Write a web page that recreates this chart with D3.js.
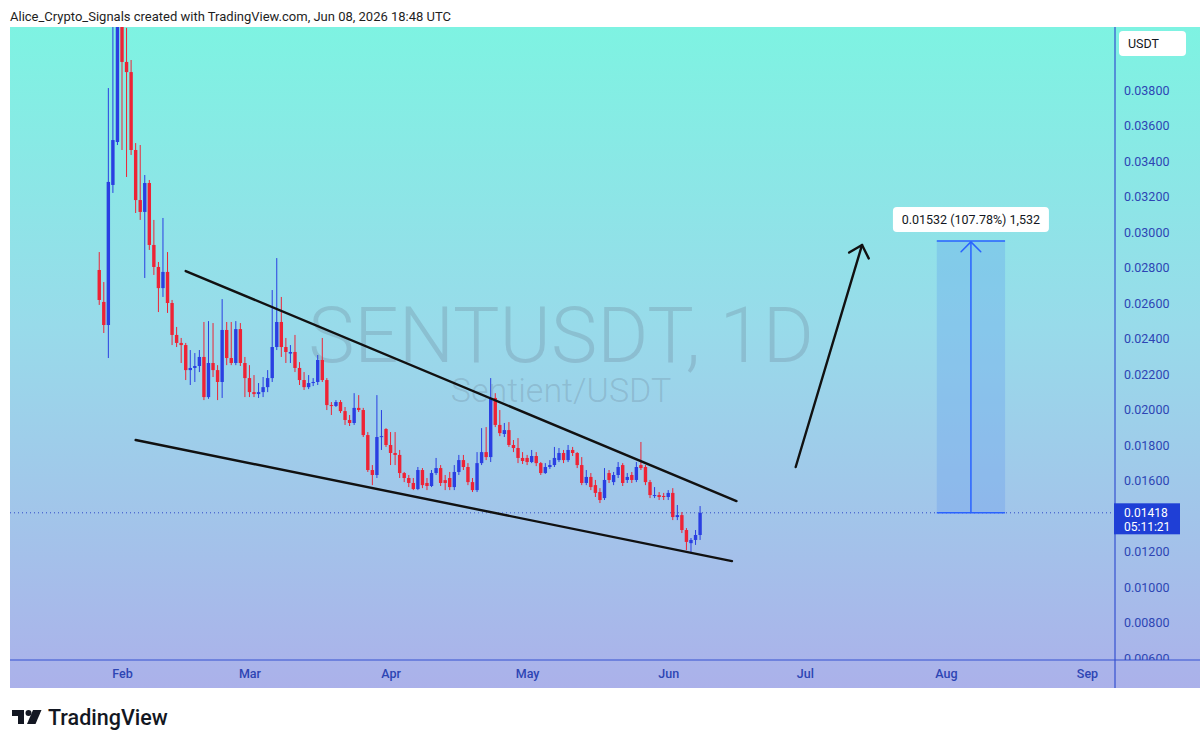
<!DOCTYPE html>
<html>
<head>
<meta charset="utf-8">
<script src="https://cdn.jsdelivr.net/npm/d3@7/dist/d3.min.js"></script>
<style>
  body { margin: 0; background: #fff; }
  svg { display: block; font-family: Roboto, "Noto Sans", sans-serif; }
</style>
</head>
<body>
<div class="canvas"></div>
<script>
// daily candles SENTUSDT, first one on Jan 27 2026
const firstDay = "2026-01-27"

const open = [0.02786,0.02606,0.02476,0.03265,0.03507,0.04290,0.03958,0.03901,0.03462,0.03180,
0.03113,0.03276,0.02927,0.02803,0.02684,0.02775,0.02600,0.02420,0.02375,0.02363,
0.02222,0.02234,0.02245,0.02296,0.02070,0.02262,0.02222,0.02155,0.02448,0.02290,
0.02262,0.02453,0.02262,0.02177,0.02098,0.02087,0.02098,0.02126,0.02177,0.02352,
0.02493,0.02352,0.02315,0.02324,0.02234,0.02166,0.02126,0.02149,0.02155,0.02279,
0.02166,0.02025,0.02020,0.02042,0.01991,0.01941,0.01924,0.02009,0.01997,0.01856,
0.01659,0.01631,0.01845,0.01890,0.01800,0.01755,0.01744,0.01642,0.01614,0.01586,
0.01552,0.01659,0.01586,0.01569,0.01642,0.01670,0.01602,0.01614,0.01563,0.01648,
0.01715,0.01676,0.01591,0.01546,0.01698,0.01760,0.01732,0.02065,0.01913,0.01862,
0.01884,0.01800,0.01783,0.01727,0.01727,0.01704,0.01738,0.01698,0.01642,0.01676,
0.01687,0.01715,0.01755,0.01715,0.01772,0.01755,0.01687,0.01586,0.01620,0.01574,
0.01535,0.01501,0.01642,0.01591,0.01631,0.01687,0.01603,0.01631,0.01603,0.01687,
0.01676,0.01591,0.01513,0.01518,0.01513,0.01507,0.01530,0.01394,0.01405,0.01321,
0.01247,0.01265,0.01293]

const high = [0.02887,0.02718,0.03811,0.04250,0.04450,0.04380,0.04150,0.03969,0.03501,0.03490,
0.03321,0.03293,0.03068,0.02831,0.03079,0.02887,0.02617,0.02465,0.02403,0.02375,
0.02335,0.02318,0.02335,0.02493,0.02498,0.02487,0.02250,0.02622,0.02493,0.02493,
0.02498,0.02487,0.02296,0.02250,0.02194,0.02149,0.02183,0.02222,0.02673,0.02853,
0.02634,0.02403,0.02363,0.02420,0.02267,0.02211,0.02194,0.02177,0.02307,0.02403,
0.02177,0.02042,0.02053,0.02053,0.02014,0.01969,0.02092,0.02081,0.02009,0.01873,
0.01687,0.02081,0.01997,0.01895,0.01873,0.01873,0.01772,0.01648,0.01631,0.01614,
0.01676,0.01670,0.01614,0.01659,0.01727,0.01687,0.01631,0.01648,0.01687,0.01744,
0.01744,0.01698,0.01614,0.01760,0.01895,0.01901,0.02177,0.02092,0.01997,0.01924,
0.01929,0.01828,0.01839,0.01760,0.01744,0.01772,0.01760,0.01704,0.01698,0.01715,
0.01789,0.01783,0.01772,0.01800,0.01789,0.01760,0.01732,0.01659,0.01642,0.01603,
0.01557,0.01670,0.01659,0.01648,0.01704,0.01698,0.01642,0.01648,0.01704,0.01817,
0.01687,0.01603,0.01563,0.01535,0.01530,0.01546,0.01557,0.01462,0.01422,0.01332,
0.01276,0.01321,0.01456]

const low = [0.02589,0.02431,0.02290,0.03220,0.03490,0.03462,0.03310,0.03434,0.03107,0.03068,
0.02741,0.02899,0.02758,0.02549,0.02634,0.02544,0.02363,0.02352,0.02262,0.02166,
0.02138,0.02155,0.02211,0.02053,0.02060,0.02183,0.02053,0.02065,0.02250,0.02250,
0.02250,0.02245,0.02070,0.02070,0.02070,0.02065,0.02070,0.02098,0.02155,0.02335,
0.02296,0.02262,0.02262,0.02211,0.02138,0.02110,0.02115,0.02132,0.02138,0.02155,
0.01997,0.01969,0.02014,0.01980,0.01913,0.01907,0.01913,0.01986,0.01845,0.01648,
0.01574,0.01614,0.01772,0.01789,0.01687,0.01687,0.01614,0.01591,0.01563,0.01546,
0.01546,0.01557,0.01546,0.01563,0.01631,0.01569,0.01546,0.01546,0.01546,0.01631,
0.01659,0.01574,0.01535,0.01535,0.01687,0.01715,0.01704,0.01901,0.01850,0.01845,
0.01789,0.01760,0.01698,0.01693,0.01687,0.01698,0.01681,0.01631,0.01637,0.01665,
0.01676,0.01704,0.01698,0.01704,0.01738,0.01670,0.01574,0.01574,0.01546,0.01507,
0.01473,0.01490,0.01586,0.01574,0.01614,0.01569,0.01586,0.01586,0.01591,0.01659,
0.01574,0.01501,0.01501,0.01490,0.01490,0.01490,0.01377,0.01377,0.01304,0.01208,
0.01191,0.01237,0.01265]

const close = [0.02617,0.02476,0.03282,0.03518,0.04290,0.03958,0.03901,0.03462,0.03180,0.03113,
0.03276,0.02927,0.02803,0.02684,0.02775,0.02600,0.02420,0.02375,0.02363,0.02222,
0.02234,0.02245,0.02296,0.02070,0.02262,0.02222,0.02155,0.02448,0.02290,0.02262,
0.02453,0.02262,0.02177,0.02098,0.02087,0.02098,0.02126,0.02177,0.02352,0.02493,
0.02352,0.02324,0.02324,0.02234,0.02166,0.02126,0.02149,0.02155,0.02279,0.02166,
0.02025,0.02020,0.02042,0.01991,0.01941,0.01924,0.02009,0.01997,0.01856,0.01659,
0.01631,0.01845,0.01850,0.01800,0.01755,0.01744,0.01642,0.01614,0.01586,0.01552,
0.01659,0.01574,0.01569,0.01642,0.01670,0.01586,0.01586,0.01563,0.01648,0.01715,
0.01676,0.01591,0.01546,0.01698,0.01760,0.01732,0.02065,0.01913,0.01867,0.01884,
0.01800,0.01783,0.01727,0.01710,0.01704,0.01738,0.01698,0.01642,0.01676,0.01687,
0.01727,0.01755,0.01715,0.01772,0.01755,0.01687,0.01586,0.01620,0.01563,0.01530,
0.01490,0.01603,0.01603,0.01631,0.01676,0.01586,0.01620,0.01603,0.01676,0.01670,
0.01591,0.01518,0.01518,0.01507,0.01507,0.01530,0.01394,0.01405,0.01321,0.01254,
0.01265,0.01293,0.01418]

// axis ticks (0.014 sits under the last price label, so it isn't shown)
const priceTicks = [0.006,0.008,0.010,0.012,0.016,0.018,0.020,0.022,0.024,0.026,0.028,0.030,0.032,0.034,0.036,0.038]
const monthTicks = ["2026-02-01","2026-03-01","2026-04-01","2026-05-01","2026-06-01","2026-07-01","2026-08-01","2026-09-01"]

// drawings
const upperTrend = [{date: "2026-02-15", price: 0.02780}, {date: "2026-06-16", price: 0.01484}]
const lowerTrend = [{date: "2026-02-04", price: 0.01828}, {date: "2026-06-15", price: 0.01146}]
const breakoutArrow = [{date: "2026-06-29", price: 0.01676}, {date: "2026-07-13T14:00:00Z", price: 0.02927}]
const measure = {start: "2026-07-30", end: "2026-08-14", from: 0.01418, to: 0.02950, label: "0.01532 (107.78%) 1,532"}
const lastPrice = 0.01418
const countdown = "05:11:21"

const width = 1200
const height = 747
const plotLeft = 10, plotTop = 27, plotBottom = 660, axisX = 1115, axisBottom = 688

const canvas = d3.select(".canvas")
const svg = canvas.append("svg")
    .attr("width", width)
    .attr("height", height)

svg.append("rect").attr("width", width).attr("height", height).attr("fill", "#fff")

const x = d3.scaleUtc()
    .domain([new Date("2026-02-01"), new Date("2026-09-01")])
    .range([122, 1087])
const y = d3.scaleLinear()
    .domain([0.006, 0.038])
    .range([658, 90])

const defs = svg.append("defs")
const grad = defs.append("linearGradient")
    .attr("id", "bg")
    .attr("gradientUnits", "userSpaceOnUse")
    .attr("x1", 0).attr("y1", plotTop).attr("x2", 0).attr("y2", axisBottom)
grad.append("stop").attr("offset", "0%").attr("stop-color", "#7ef3e2")
grad.append("stop").attr("offset", "45%").attr("stop-color", "#98dbea")
grad.append("stop").attr("offset", "100%").attr("stop-color", "#abb1ea")

defs.append("clipPath").attr("id", "plot")
    .append("rect").attr("x", plotLeft).attr("y", plotTop).attr("width", axisX - plotLeft).attr("height", plotBottom - plotTop)
defs.append("clipPath").attr("id", "yaxis")
    .append("rect").attr("x", axisX).attr("y", plotTop).attr("width", width - axisX).attr("height", plotBottom - plotTop)

// background
svg.append("rect")
    .attr("x", plotLeft).attr("y", plotTop)
    .attr("width", width - plotLeft).attr("height", axisBottom - plotTop)
    .attr("fill", "url(#bg)")

// header
svg.append("text")
    .attr("x", 10).attr("y", 21)
    .attr("font-size", 13)
    .attr("fill", "#1e1e1e")
    .text("Alice_Crypto_Signals created with TradingView.com, Jun 08, 2026 18:48 UTC")

// watermark (symbol + description)
const wm = svg.append("text")
    .attr("text-anchor", "middle")
    .attr("font-weight", 300)
    .attr("fill", "rgba(95,110,130,0.24)")
wm.append("tspan")
    .attr("x", 561).attr("y", 362)
    .attr("font-size", 78)
    .text("SENTUSDT, 1D")
wm.append("tspan")
    .attr("x", 561).attr("y", 402)
    .attr("font-size", 34)
    .text("Sentient/USDT")

const plot = svg.append("g").attr("clip-path", "url(#plot)")

// last price dotted line
plot.append("line")
    .attr("x1", plotLeft).attr("x2", axisX)
    .attr("y1", y(lastPrice)).attr("y2", y(lastPrice))
    .attr("stroke", "#2f49c8")
    .attr("stroke-width", 1)
    .attr("stroke-dasharray", "1,3")

// candles
const start = new Date(firstDay)
const candles = close.map((c, i) => ({
    date: d3.utcDay.offset(start, i),
    open: open[i], high: high[i], low: low[i], close: c
}))
const up = "#2a3fe2", down = "#ee2335"
const bodyW = 3.4

const cg = plot.append("g").selectAll("g")
    .data(candles)
    .enter()
    .append("g")
cg.append("line")
    .attr("x1", d => x(d.date)).attr("x2", d => x(d.date))
    .attr("y1", d => y(d.high)).attr("y2", d => y(d.low))
    .attr("stroke", d => d.close >= d.open ? up : down)
    .attr("stroke-width", 1)
cg.append("rect")
    .attr("x", d => x(d.date) - bodyW / 2)
    .attr("width", bodyW)
    .attr("y", d => y(Math.max(d.open, d.close)))
    .attr("height", d => Math.max(1, Math.abs(y(d.open) - y(d.close))))
    .attr("fill", d => d.close >= d.open ? up : down)

// trend lines
const line = d3.line().x(d => x(new Date(d.date))).y(d => y(d.price))
;[upperTrend, lowerTrend, breakoutArrow].forEach(pts => {
    plot.append("path")
        .attr("d", line(pts))
        .attr("fill", "none")
        .attr("stroke", "#111")
        .attr("stroke-width", 2.4)
        .attr("stroke-linecap", "round")
})

function arrowHead(g, x0, y0, x1, y1, len, spread, color, w) {
    const a = Math.atan2(y0 - y1, x0 - x1)
    const p = [a - spread, a + spread].map(b => [x1 + len * Math.cos(b), y1 + len * Math.sin(b)])
    g.append("path")
        .attr("d", `M${p[0][0]},${p[0][1]}L${x1},${y1}L${p[1][0]},${p[1][1]}`)
        .attr("fill", "none")
        .attr("stroke", color)
        .attr("stroke-width", w)
        .attr("stroke-linecap", "round")
        .attr("stroke-linejoin", "round")
}
const ax0 = x(new Date(breakoutArrow[0].date)), ay0 = y(breakoutArrow[0].price)
const ax1 = x(new Date(breakoutArrow[1].date)), ay1 = y(breakoutArrow[1].price)
arrowHead(plot, ax0, ay0, ax1, ay1, 15, 0.75, "#111", 2.4)

// measure tool
const mx0 = x(new Date(measure.start)), mx1 = x(new Date(measure.end))
const my0 = y(measure.from), my1 = y(measure.to)
const mcx = (mx0 + mx1) / 2
plot.append("rect")
    .attr("x", mx0).attr("y", my1)
    .attr("width", mx1 - mx0).attr("height", my0 - my1)
    .attr("fill", "rgba(80,140,240,0.24)")
plot.selectAll(".mline")
    .data([my0, my1])
    .enter()
    .append("line")
    .attr("x1", mx0).attr("x2", mx1)
    .attr("y1", d => d).attr("y2", d => d)
    .attr("stroke", "#2962ff")
    .attr("stroke-width", 1.5)
plot.append("line")
    .attr("x1", mcx).attr("x2", mcx)
    .attr("y1", my0).attr("y2", my1 + 1)
    .attr("stroke", "#2962ff")
    .attr("stroke-width", 1.5)
arrowHead(plot, mcx, my0, mcx, my1 + 1, 14, 0.78, "#2962ff", 1.5)

const lw = 156
plot.append("rect")
    .attr("x", mcx - lw / 2).attr("y", my1 - 34)
    .attr("width", lw).attr("height", 25)
    .attr("rx", 4)
    .attr("fill", "#fff")
plot.append("text")
    .attr("x", mcx).attr("y", my1 - 17)
    .attr("text-anchor", "middle")
    .attr("font-size", 12.5)
    .attr("fill", "#131722")
    .text(measure.label)

// axis frame
svg.append("line")
    .attr("x1", axisX).attr("x2", axisX).attr("y1", plotTop).attr("y2", axisBottom)
    .attr("stroke", "#3550cf").attr("stroke-width", 1.2)
svg.append("line")
    .attr("x1", plotLeft).attr("x2", width).attr("y1", plotBottom).attr("y2", plotBottom)
    .attr("stroke", "#3550cf").attr("stroke-width", 1.2)

// price axis
const yAxis = svg.append("g")
    .attr("clip-path", "url(#yaxis)")
    .append("g")
    .attr("transform", `translate(${axisX},0)`)
    .call(d3.axisRight(y).tickValues(priceTicks).tickFormat(d => d.toFixed(5)).tickSize(0).tickPadding(9))
yAxis.select(".domain").remove()
yAxis.selectAll("text")
    .attr("font-size", 12.5)
    .attr("font-family", "Roboto, sans-serif")
    .attr("fill", "#2d45b4")

// time axis
const xAxis = svg.append("g")
    .attr("transform", `translate(0,${plotBottom})`)
    .call(d3.axisBottom(x).tickValues(monthTicks.map(d => new Date(d))).tickFormat(d3.utcFormat("%b")).tickSize(0).tickPadding(9))
xAxis.select(".domain").remove()
xAxis.selectAll("text")
    .attr("font-size", 12.5)
    .attr("font-family", "Roboto, sans-serif")
    .attr("font-weight", 500)
    .attr("fill", "#2d45b4")

// USDT box
svg.append("rect")
    .attr("x", 1119).attr("y", 31).attr("width", 67).attr("height", 25)
    .attr("rx", 4).attr("fill", "#fff")
svg.append("text")
    .attr("x", 1128).attr("y", 48)
    .attr("font-size", 12.5).attr("fill", "#131722")
    .text("USDT")

// last price label
const ly = y(lastPrice)
svg.append("rect")
    .attr("x", axisX - 1).attr("y", ly - 9.5)
    .attr("width", 66).attr("height", 31)
    .attr("fill", "#1f3fd6")
const lp = svg.append("text")
    .attr("font-size", 12).attr("fill", "#fff")
lp.append("tspan").attr("x", 1124).attr("y", ly + 4).text(lastPrice.toFixed(5))
lp.append("tspan").attr("x", 1124).attr("y", ly + 18).text(countdown)

// footer logo
const logo = svg.append("g").attr("fill", "#131722")
logo.append("path").attr("d", "M12,710H24V724H18V716H12Z")
logo.append("circle").attr("cx", 28.5).attr("cy", 713).attr("r", 3)
logo.append("path").attr("d", "M33,710H41.5L35.5,724H27Z")
logo.append("text")
    .attr("x", 48).attr("y", 725)
    .attr("font-size", 21.5)
    .attr("font-weight", 500)
    .text("TradingView")
</script>
</body>
</html>
